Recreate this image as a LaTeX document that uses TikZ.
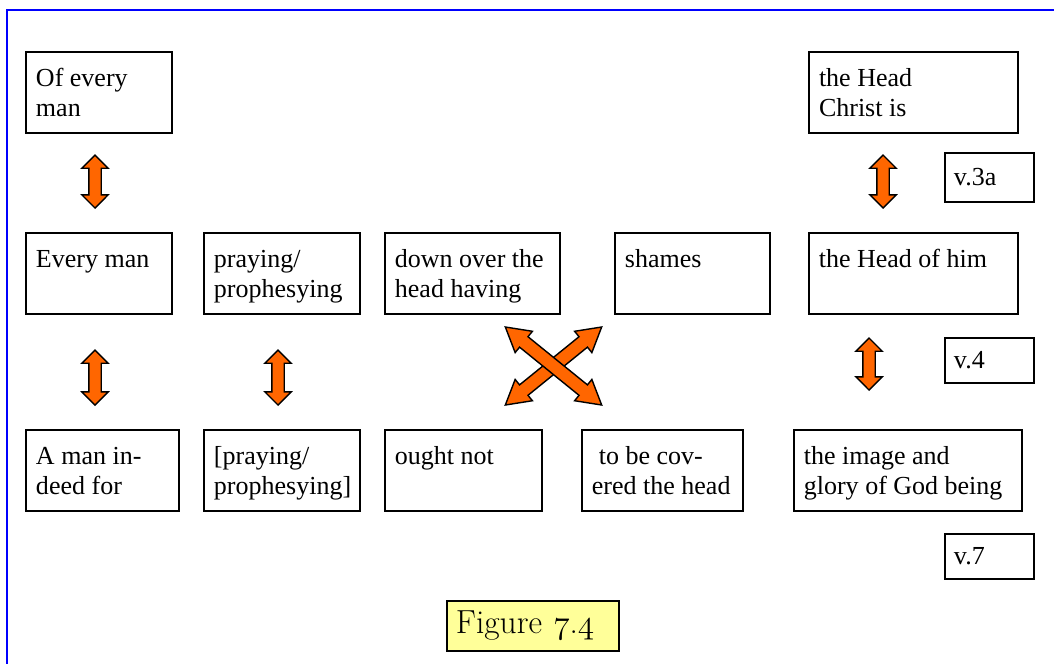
\RequirePackage{fix-cm}
\documentclass[tikz,border=0pt]{standalone}
\usepackage{fontspec}
\usepackage{tikz}
\usetikzlibrary{shapes.arrows, positioning}
\newfontfamily\boxfont{Liberation Serif}
\definecolor{frameBlue}{RGB}{0, 0, 255}
\definecolor{arrowOrange}{RGB}{255, 102, 0}
\definecolor{labelYellow}{RGB}{255, 255, 153}

\begin{document}
\begin{tikzpicture}[
    x=0.02cm, y=-0.02cm,
    wordbox/.style={
        rectangle,
        draw,
        line width=1.1pt,
        anchor=north west,
        outer sep=0pt,
        align=flush left,
        inner xsep=0.2cm,
        inner ysep=0pt,
        text width=#1,
        text height=0.68cm,
        text depth=0.94cm,
        font=\boxfont\fontsize{14.8}{17.6}\selectfont
    },
    versebox/.style={
        rectangle,
        draw,
        line width=1.1pt,
        anchor=north west,
        align=left,
        inner xsep=0.18cm,
        inner ysep=0pt,
        text width=1.42cm,
        minimum height=#1,
        font=\boxfont\fontsize{14.8}{17.6}\selectfont
    },
    swaparrow/.style={
        double arrow,
        draw=black,
        line width=0.8pt,
        fill=arrowOrange,
        inner xsep=0pt,
        inner ysep=0.11cm,
        double arrow head extend=0.14cm
    },
    crossarrow/.style={
        swaparrow,
        inner ysep=0.12cm,
        double arrow head extend=0.14cm,
        double arrow tip angle=60,
        minimum height=2.48cm
    }
]
\useasboundingbox (0,0) rectangle (1054,664);

% Frame
\draw[frameBlue, line width=1.2pt] (1054,10) -- (7,10) -- (7,664);

% Top row
\node[wordbox=2.52cm] (t1) at (26,52) {Of every\\man};
\node[wordbox=3.78cm] (t2) at (809,52) {the Head\\Christ is};

% Middle row
\node[wordbox=2.52cm] (h1) at (26,233) {Every man};
\node[wordbox=2.72cm, right=0.64cm of h1] (h2) {praying/\\prophesying};
\node[wordbox=3.10cm, right=0.5cm of h2] (h3) {down over the\\head having};
\node[wordbox=2.70cm, right=1.1cm of h3] (h4) {shames};
\node[wordbox=3.78cm, right=0.78cm of h4] (h5) {the Head of him};

% Bottom row
\node[wordbox=2.66cm] (r1) at (26,430) {A man in-\\deed for};
\node[wordbox=2.72cm, right=0.5cm of r1] (r2) {[praying/\\prophesying]};
\node[wordbox=2.74cm, right=0.5cm of r2] (r3) {ought not};
\node[wordbox=2.82cm, right=0.8cm of r3] (r4) {\hspace*{0.14cm}to be cov-\\ered the head};
\node[wordbox=4.16cm, right=1.02cm of r4] (r5) {the image and\\glory of God being};

% Verse references
\node[versebox=0.98cm] (v3a) at (944,152) {v.3a};
\node[versebox=0.90cm] (v4) at (944,337) {v.4};
\node[versebox=0.90cm] (v7) at (944,533) {v.7};

% Correspondence arrows
\node[swaparrow, rotate=90, minimum height=1.06cm] (s1) at (95,181.5) {};
\node[swaparrow, rotate=90, minimum height=1.06cm] (s2) at (883,181.5) {};
\node[swaparrow, rotate=90, minimum height=1.10cm] (s3) at (95,377.5) {};
\node[swaparrow, rotate=90, minimum height=1.10cm] (s4) at (278,377.5) {};
\node[swaparrow, rotate=90, minimum height=1.04cm] (s5) at (869,364) {};

% Crossing arrows
\node[crossarrow, rotate=39] (x1) at (553.5,366) {};
\node[crossarrow, rotate=-39] (x2) at (553.5,366) {};

% Caption (old-style figures taken from the math italic font)
\node[draw, line width=1.1pt, fill=labelYellow, anchor=north west,
      minimum width=3.44cm, minimum height=1.0cm, text width=3.08cm,
      align=left, inner xsep=0.18cm,
      font=\fontsize{19}{22}\selectfont]
      (fig) at (446,600) {Figure $\mathnormal{7}$.$\mathnormal{4}$};

\end{tikzpicture}
\end{document}
